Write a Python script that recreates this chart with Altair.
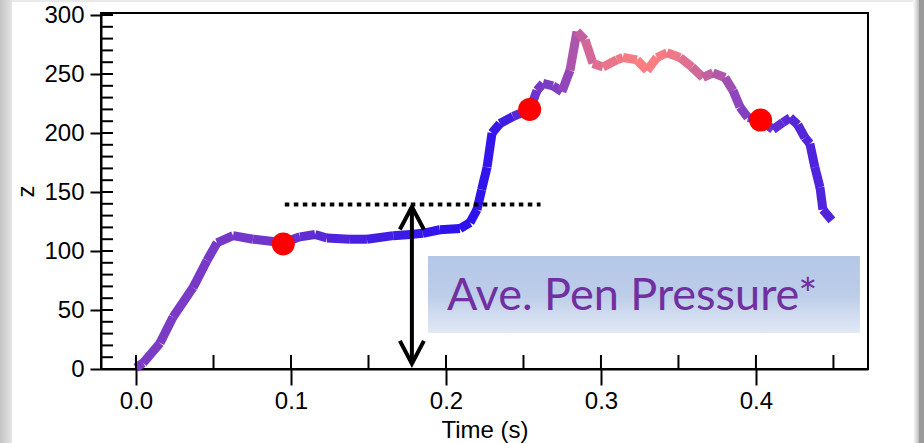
import altair as alt
import pandas as pd

# ---- data ----
time_s = [0.000, 0.0045, 0.0155, 0.0239, 0.0368, 0.0458, 0.0523, 0.0626, 0.0755, 0.0884,
          0.0948, 0.1058, 0.1155, 0.1232, 0.1380, 0.1490, 0.1660, 0.1770, 0.1850, 0.1960,
          0.2090, 0.2155, 0.2200, 0.2230, 0.2265, 0.2297, 0.2348, 0.2432, 0.2542, 0.2587,
          0.2626, 0.2690, 0.2748, 0.2800, 0.2845, 0.2897, 0.2948, 0.3013, 0.3103, 0.3142,
          0.3232, 0.3297, 0.3361, 0.3426, 0.3510, 0.3587, 0.3658, 0.3723, 0.3800, 0.3852,
          0.3897, 0.3948, 0.4032, 0.4110, 0.4174, 0.4220, 0.4270, 0.4316, 0.4348, 0.4380,
          0.4413, 0.4432, 0.4490]
z_vals = [1, 5, 22, 44, 69, 92, 107, 113, 110, 108,
          107, 112, 114, 111, 110, 110, 113, 114, 115, 118,
          119, 124, 135, 152, 171, 200, 208, 214, 220, 236,
          242, 240, 235, 253, 286, 279, 259, 256, 262, 264,
          262, 253, 264, 268, 264, 256, 247, 251, 247, 236,
          222, 213, 211, 203, 209, 213, 207, 196, 191, 171,
          154, 135, 126]
shade = [0.38, 0.38, 0.38, 0.38, 0.37, 0.37, 0.36, 0.35, 0.34, 0.32,
         0.30, 0.27, 0.24, 0.20, 0.16, 0.13, 0.10, 0.07, 0.05, 0.03,
         0.02, 0.02, 0.02, 0.03, 0.04, 0.05, 0.08, 0.15, 0.28, 0.35,
         0.38, 0.40, 0.42, 0.55, 0.68, 0.75, 0.82, 0.88, 0.92, 0.95,
         0.97, 1.00, 0.97, 0.95, 0.90, 0.82, 0.75, 0.68, 0.60, 0.50,
         0.45, 0.40, 0.35, 0.28, 0.24, 0.22, 0.20, 0.19, 0.18, 0.18,
         0.18, 0.18, 0.18]

dot_t = [0.095, 0.254, 0.403]
dot_z = [106, 220, 211]

avg_t = [0.096, 0.261]
avg_z = [139.5, 139.5]

arrow_t = [0.178]
arrow_top = [137.5]
arrow_bottom = [4.5]

box_t = [0.1884, 0.4671]
box_z = [30.5, 95.8]
box_text = ["Ave. Pen Pressure*"]
text_t = [0.2006]
text_z = [50]

x_major = [0.0, 0.1, 0.2, 0.3, 0.4]
x_minor = [0.0, 0.05, 0.1, 0.15, 0.2, 0.25, 0.3, 0.35, 0.4, 0.45]
y_major = [0, 50, 100, 150, 200, 250, 300]
y_minor = list(range(0, 301, 10))

W, H = 767, 356
X_DOM = [-0.0226, 0.4723]
Y_DOM = [0, 301.7]
FONT = "Liberation Sans"

xs = alt.Scale(domain=X_DOM, nice=False, zero=False)
ys = alt.Scale(domain=Y_DOM, nice=False, zero=False)

# segments, one per pair of neighbouring points
rows = []
for i in range(len(time_s) - 1):
    c = (shade[i] + shade[i + 1]) / 2
    rows.append({"seg": i, "t": time_s[i], "z": z_vals[i], "c": c})
    rows.append({"seg": i, "t": time_s[i + 1], "z": z_vals[i + 1], "c": c})
seg_df = pd.DataFrame(rows)

x_axis = alt.Axis(values=x_major, format=".1f", tickSize=16, tickWidth=2, tickColor="black",
                  domainColor="black", domainWidth=2, labelFont=FONT, labelFontSize=24,
                  labelColor="black", labelPadding=4, title="Time (s)", titleFont=FONT,
                  titleFontSize=24, titleFontWeight="normal", titleColor="black",
                  titleBaseline="alphabetic", titleY=68, grid=False)
y_axis = alt.Axis(values=y_major, tickSize=11, tickWidth=2, tickColor="black",
                  domainColor="black", domainWidth=2, labelFont=FONT, labelFontSize=24,
                  labelColor="black", labelPadding=6, title="z", titleFont=FONT,
                  titleFontSize=24, titleFontWeight="normal", titleColor="black",
                  titleBaseline="alphabetic", titleX=-68, grid=False)


def X(field="t"):
    return alt.X(f"{field}:Q", scale=xs, axis=x_axis)


def Y(field="z"):
    return alt.Y(f"{field}:Q", scale=ys, axis=y_axis)


one = pd.DataFrame({"k": [0]})

# slide frame decoration
left_strip = alt.Chart(one).mark_rect(
    fill=alt.Gradient(gradient="linear", x1=0, x2=1, y1=0, y2=0,
                      stops=[alt.GradientStop(offset=0, color="#c4c4c4"),
                             alt.GradientStop(offset=1, color="#e4e4e4")])
).encode(x=alt.value(-101), x2=alt.value(-89), y=alt.value(-13), y2=alt.value(430))
right_fade = alt.Chart(one).mark_rect(
    fill=alt.Gradient(gradient="linear", x1=0, x2=1, y1=0, y2=0,
                      stops=[alt.GradientStop(offset=0, color="#ffffff"),
                             alt.GradientStop(offset=1, color="#bdbdbd")])
).encode(x=alt.value(812), x2=alt.value(818), y=alt.value(-13), y2=alt.value(430))
right_strip = alt.Chart(one).mark_rect(color="#9a9a9a").encode(
    x=alt.value(818), x2=alt.value(823), y=alt.value(-13), y2=alt.value(430))
top_strip = alt.Chart(one).mark_rect(color="#e9e9e9").encode(
    x=alt.value(-89), x2=alt.value(812), y=alt.value(-13), y2=alt.value(-11))

# inner ticks
x_in = alt.Chart(pd.DataFrame({"t": x_minor})).mark_rule(color="black", strokeWidth=2).encode(
    x=X(), y=alt.value(H - 14), y2=alt.value(H))
y_in = alt.Chart(pd.DataFrame({"z": y_minor})).mark_rule(color="black", strokeWidth=2).encode(
    y=Y(), x=alt.value(0), x2=alt.value(12))

# box with text
box = alt.Chart(pd.DataFrame({"t": [box_t[0]], "t2": [box_t[1]], "z": [box_z[0]], "z2": [box_z[1]]})).mark_rect(
    fill=alt.Gradient(gradient="linear", x1=0, x2=0, y1=0, y2=1,
                      stops=[alt.GradientStop(offset=0, color="#b4c7e7"),
                             alt.GradientStop(offset=0.5, color="#bccde9"),
                             alt.GradientStop(offset=1, color="#e2e9f5")])
).encode(x=X(), x2="t2:Q", y=Y(), y2="z2:Q")
label = alt.Chart(pd.DataFrame({"t": text_t, "z": text_z, "s": box_text})).mark_text(
    align="left", baseline="alphabetic", font="Lato", fontSize=45, color="#7030a0"
).encode(x=X(), y=Y(), text="s:N")

# the pressure trace
trace = alt.Chart(seg_df).mark_line(strokeWidth=9, strokeCap="butt").encode(
    x=X(), y=Y(),
    detail="seg:N",
    color=alt.Color("c:Q", scale=alt.Scale(domain=[0, 1], range=["#2a10f0", "#ff8080"],
                                           interpolate="rgb"), legend=None),
)

dots = alt.Chart(pd.DataFrame({"t": dot_t, "z": dot_z})).mark_circle(
    size=531, color="#ff0000", opacity=1).encode(x=X(), y=Y())

avg_line = alt.Chart(pd.DataFrame({"t": avg_t, "z": avg_z})).mark_line(
    color="black", strokeWidth=4, strokeDash=[4.5, 4.5]).encode(x=X(), y=Y())

arrow_df = pd.DataFrame({"t": arrow_t, "z": arrow_top, "zb": arrow_bottom})
shaft = alt.Chart(arrow_df).mark_rule(color="black", strokeWidth=4).encode(
    x=X(), y=Y(), y2="zb:Q")
head_top = alt.Chart(arrow_df).mark_point(
    shape="M-1,1.9L0,0L1,1.9", size=576, filled=False, strokeWidth=4, color="black", opacity=1
).encode(x=X(), y=Y())
head_bot = alt.Chart(pd.DataFrame({"t": arrow_t, "z": arrow_bottom})).mark_point(
    shape="M-1,-1.9L0,0L1,-1.9", size=576, filled=False, strokeWidth=4, color="black", opacity=1
).encode(x=X(), y=Y())

chart = alt.layer(
    left_strip, right_fade, right_strip, top_strip,
    trace, box, label, x_in, y_in, avg_line, shaft, head_top, head_bot, dots
).properties(
    width=W, height=H,
    autosize=alt.AutoSizeParams(type="none"),
    padding={"left": 101, "top": 13, "right": 56, "bottom": 74},
    background="white",
).configure_view(stroke="black", strokeWidth=2)

chart.save("out.html", embed_options={"renderer": "svg", "actions": False})
